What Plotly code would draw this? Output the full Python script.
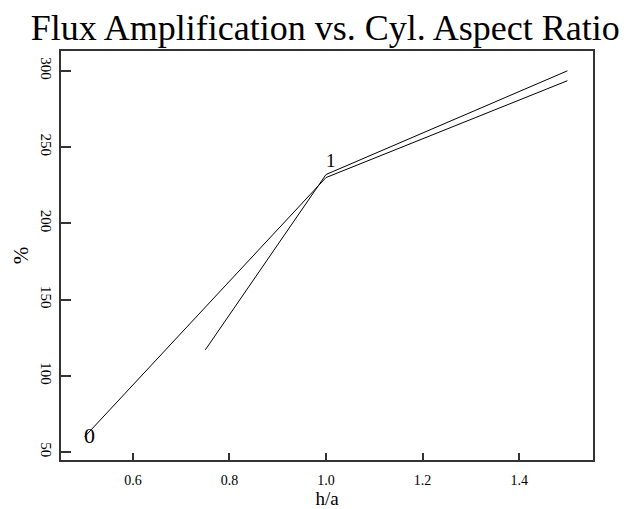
import plotly.graph_objects as go

# Flux amplification (%) against cylinder aspect ratio h/a
h_a_0 = [0.5, 1.0, 1.5]
amp_0 = [60, 230, 293.5]
h_a_1 = [0.75, 1.0, 1.5]
amp_1 = [117, 232, 300]

curve_labels = ["0", "1"]
label_x = [0.51, 1.01]
label_y = [61, 241]

x_ticks = [0.6, 0.8, 1.0, 1.2, 1.4]
x_tick_text = ["0.6", "0.8", "1.0", "1.2", "1.4"]
y_ticks = [50, 100, 150, 200, 250, 300]
y_tick_text = ["50", "100", "150", "200", "250", "300"]

serif = "Liberation Serif, Times New Roman, serif"

fig = go.Figure()
for xs, ys in [(h_a_0, amp_0), (h_a_1, amp_1)]:
    fig.add_trace(go.Scatter(x=xs, y=ys, mode="lines",
                             line=dict(color="black", width=1),
                             showlegend=False, hoverinfo="skip"))

for txt, lx, ly, sz in zip(curve_labels, label_x, label_y, [22, 19]):
    fig.add_annotation(x=lx, y=ly, text=txt, showarrow=False,
                       font=dict(family=serif, size=sz, color="black"))

fig.update_layout(
    width=629, height=509,
    margin=dict(l=61, r=36, t=51, b=49, autoexpand=False),
    paper_bgcolor="white", plot_bgcolor="white",
    title=dict(text="Flux Amplification vs. Cyl. Aspect Ratio",
               x=0.517, xanchor="center", y=0.947, yanchor="middle",
               font=dict(family=serif, size=36, color="black")),
    xaxis=dict(range=[0.451, 1.553], tickvals=x_ticks, ticktext=x_tick_text,
               automargin=False,
               ticks="inside", ticklen=7, tickwidth=1.5, tickcolor="#333",
               ticklabelstandoff=6,
               showgrid=False, zeroline=False,
               showline=True, mirror=True, linecolor="#333", linewidth=2,
               tickfont=dict(family=serif, size=14, color="black"),
               title=dict(text="h/a", standoff=10,
                          font=dict(family=serif, size=19, color="black"))),
    yaxis=dict(range=[44.75, 313], tickvals=y_ticks, ticktext=y_tick_text,
               automargin=False,
               ticks="inside", ticklen=10, tickwidth=1.5, tickcolor="#333",
               tickangle=90,
               showgrid=False, zeroline=False,
               showline=True, mirror=True, linecolor="#333", linewidth=2,
               tickfont=dict(family=serif, size=15, color="black"),
               title=dict(text="%", standoff=4,
                          font=dict(family=serif, size=21, color="black"))),
)

fig.write_html("out.html")
